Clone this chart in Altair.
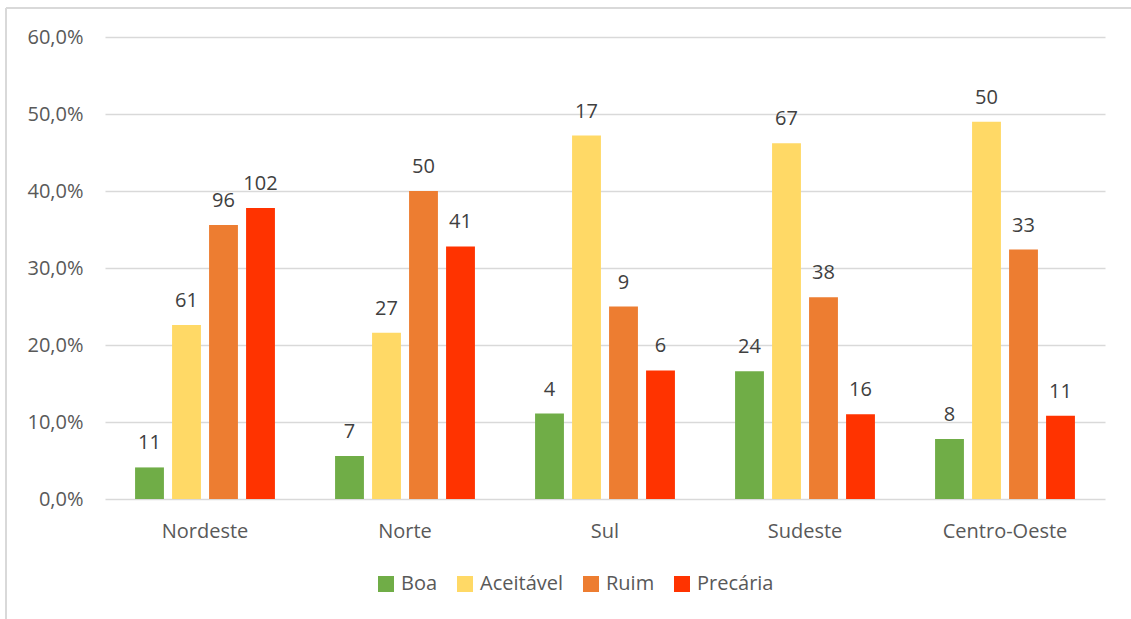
import altair as alt
import pandas as pd

regions = ["Nordeste", "Norte", "Sul", "Sudeste", "Centro-Oeste"]
conds = ["Boa", "Aceitável", "Ruim", "Precária"]
colors = ["#70AD47", "#FFD966", "#ED7D31", "#FF3300"]

boa_n = [11, 7, 4, 24, 8]
aceit_n = [61, 27, 17, 67, 50]
ruim_n = [96, 50, 9, 38, 33]
prec_n = [102, 41, 6, 16, 11]

boa_pct = [4.1, 5.6, 11.1, 16.6, 7.8]
aceit_pct = [22.6, 21.6, 47.2, 46.2, 49.0]
ruim_pct = [35.6, 40.0, 25.0, 26.2, 32.4]
prec_pct = [37.8, 32.8, 16.7, 11.0, 10.8]

y_ticks = [0, 10, 20, 30, 40, 50, 60]

rows = []
for cond, ns, ps in zip(conds, [boa_n, aceit_n, ruim_n, prec_n],
                        [boa_pct, aceit_pct, ruim_pct, prec_pct]):
    for r, n, p in zip(regions, ns, ps):
        rows.append({"Região": r, "Condição": cond, "Casos": n, "Percentual": p})
df = pd.DataFrame(rows)

FONT = "Open Sans"
W, H = 1000, 462

base = alt.Chart(df).encode(
    x=alt.X("Região:N", sort=regions,
            scale=alt.Scale(paddingInner=0.26, paddingOuter=0.13),
            axis=alt.Axis(title=None, labelAngle=0, ticks=False, domain=False,
                          labelPadding=22, labelFontSize=20, labelColor="#595959",
                          labelFont=FONT, grid=False)),
    xOffset=alt.XOffset("Condição:N", sort=conds,
                        scale=alt.Scale(paddingInner=0.22, paddingOuter=0.11)),
    y=alt.Y("Percentual:Q",
            scale=alt.Scale(domain=[0, 60], nice=False),
            axis=alt.Axis(title=None, values=y_ticks, ticks=False, domain=False,
                          labelExpr="replace(format(datum.value, '.1f'), '.', ',') + '%'",
                          labelFontSize=20, labelColor="#595959", labelFont=FONT,
                          labelPadding=22, gridColor="#D9D9D9", gridWidth=1.5)),
)

bars = base.mark_bar().encode(
    color=alt.Color("Condição:N", sort=conds,
                    scale=alt.Scale(domain=conds, range=colors),
                    legend=alt.Legend(title=None, orient="none", direction="horizontal",
                                      legendX=271, legendY=537,
                                      symbolType="square", symbolSize=256,
                                      symbolStrokeWidth=0, labelFontSize=20,
                                      labelFont=FONT, labelColor="#595959",
                                      labelOffset=5, columnPadding=17))
)

labels = base.mark_text(baseline="alphabetic", dy=-18, fontSize=20,
                        color="#404040", font=FONT).encode(text="Casos:Q")

frame_df = pd.DataFrame({"k": [0]})
top_line = alt.Chart(frame_df).mark_rule(color="#D9D9D9", strokeWidth=2, clip=False).encode(
    x=alt.value(-99), x2=alt.value(1030), y=alt.value(-29))
left_line = alt.Chart(frame_df).mark_rule(color="#D9D9D9", strokeWidth=2, clip=False).encode(
    x=alt.value(-99), y=alt.value(-29), y2=alt.value(600))

chart = alt.layer(top_line, left_line, bars, labels).properties(
    width=W, height=H,
    autosize=alt.AutoSizeParams(type="none"),
    padding={"left": 105, "top": 37, "right": 26, "bottom": 120},
).configure(background="white").configure_view(stroke=None)

chart.save("out.html", embed_options={"renderer": "svg", "actions": False})
